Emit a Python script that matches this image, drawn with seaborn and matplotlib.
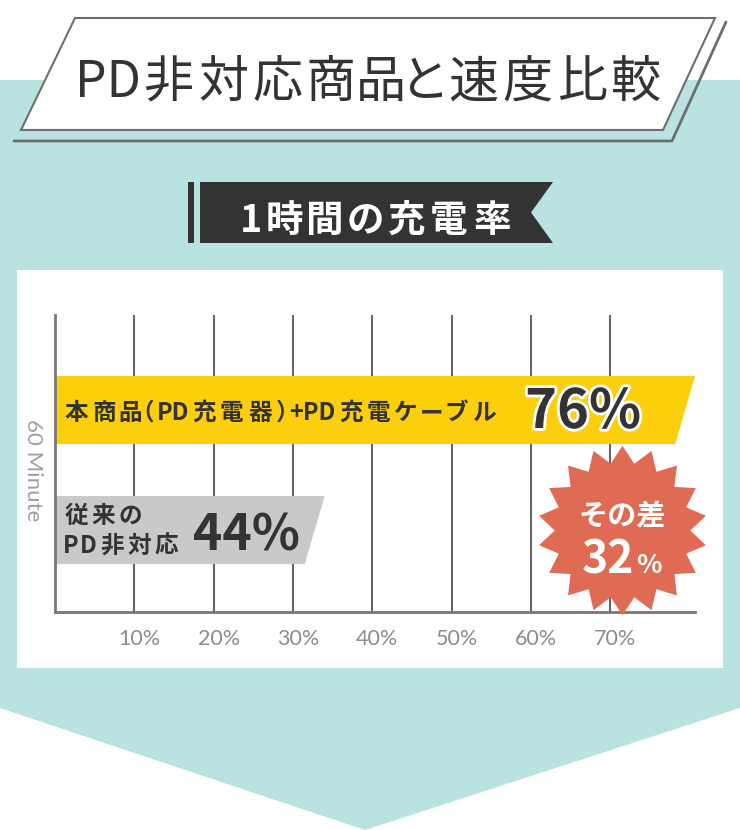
import re
import numpy as np
import pandas as pd
import matplotlib
matplotlib.use("Agg")
import matplotlib.pyplot as plt
import matplotlib.transforms as mtransforms
import matplotlib.patheffects as pe
from matplotlib.patches import Polygon, Rectangle
from matplotlib.path import Path
from matplotlib.textpath import TextPath
from matplotlib.font_manager import FontProperties
import seaborn as sns

products = ["本商品（PD充電器）+PD充電ケーブル", "従来のPD非対応"]
rates = [76, 44]                 # charge rate after 60 minutes (%)
bar_lengths = [80.7, 34.0]       # bar length as drawn in the graphic (%)
bar_colors = ["#fccf0c", "#c9c9c9"]
tick_values = [10, 20, 30, 40, 50, 60, 70]
tick_labels = ["10%", "20%", "30%", "40%", "50%", "60%", "70%"]
diff = rates[0] - rates[1]

df = pd.DataFrame({"product": products, "length": bar_lengths})

sns.set_theme(style="white")
plt.rcParams["font.family"] = ["Noto Sans CJK JP", "DejaVu Sans"]

DARK = "#333333"
TEAL = "#b9e3e1"


def spaced_text(ax, x, y, s, width, ha="left", dy=0, group=False, **kw):
    # draw text piece by piece with even gaps between the glyph inks,
    # so the whole string is `width` px wide
    fig = ax.figure
    parts = re.findall(r"[A-Za-z0-9+%]+|.", s) if group else list(s)
    fp = FontProperties(family=plt.rcParams["font.family"], size=kw["fontsize"],
                        weight=kw.get("fontweight", "normal"))
    px = fig.dpi / 72
    ink = []
    for p in parts:
        e = TextPath((0, 0), p, prop=fp).get_extents()
        ink.append((e.x0 * px, e.x1 * px))
    gap = (width - sum(b - a for a, b in ink)) / (len(parts) - 1)
    pos = {"left": 0, "center": -width / 2, "right": -width}[ha]
    for p, (a, b) in zip(parts, ink):
        tr = mtransforms.offset_copy(ax.transData, fig=fig, x=pos - a, y=dy, units="dots")
        ax.text(x, y, p, transform=tr, ha="left", va="baseline", **kw)
        pos += (b - a) + gap


fig = plt.figure(figsize=(7.4, 8.3), dpi=100)
fig.patch.set_facecolor("white")

# background / decoration layer in pixel coords
bg = fig.add_axes([0, 0, 1, 1])
bg.set_xlim(0, 740)
bg.set_ylim(830, 0)
bg.axis("off")
bg.add_patch(Polygon([(0, 80), (740, 80), (740, 708), (365, 830), (0, 708)],
                     closed=True, fc=TEAL, ec="none"))
bg.add_patch(Rectangle((17, 270), 706, 398, fc="white", ec="none"))
bg.plot([14, 672, 726], [141, 141, 22], color="#6e6e6e", lw=2)
bg.add_patch(Polygon([(75, 18), (715, 18), (663, 130), (21, 130)],
                     closed=True, fc="white", ec="#6e6e6e", lw=1.5))
spaced_text(bg, 370, 97, "PD非対応商品と速度比較", 580, ha="center", group=True,
            fontsize=36, color=DARK)
bg.add_patch(Rectangle((188, 182), 6, 61, fc=DARK, ec="none"))
bg.add_patch(Polygon([(200, 182), (553, 182), (531, 212.5), (553, 243), (200, 243)],
                     closed=True, fc=DARK, ec="none"))
spaced_text(bg, 376, 232, "1時間の充電率", 266, ha="center",
            fontsize=27, fontweight="bold", color="white")
bg.text(33, 470, "60 Minute", rotation=-90, ha="center", va="center",
        fontsize=16, color="#a0a0a0", family=["Lato", "DejaVu Sans"])

# chart
ax = fig.add_axes([55 / 740, 1 - 612 / 830, 640 / 740, 297 / 830])
ax.set_facecolor("none")
sns.barplot(data=df, x="length", y="product", hue="product", palette=bar_colors,
            width=0.567, saturation=1, legend=False, ax=ax, zorder=2)

# slanted right end on each bar
slant = 2.5
for patch in list(ax.patches):
    x0, y0 = patch.get_x(), patch.get_y()
    w, h = patch.get_width(), patch.get_height()
    fc = patch.get_facecolor()
    patch.remove()
    ax.add_patch(Polygon([(x0, y0), (x0 + w, y0), (x0 + w - slant, y0 + h), (x0, y0 + h)],
                         closed=True, fc=fc, ec="none", zorder=2))

ax.set_xlim(0, 80.7)
ax.set_ylim(1.683, -0.792)
ax.set_xticks(tick_values, tick_labels)
ax.set_yticks([])
ax.set_xlabel("")
ax.set_ylabel("")
ax.grid(axis="x", color="#666666", lw=1.5)
ax.set_axisbelow(True)
for s in ["top", "right"]:
    ax.spines[s].set_visible(False)
for s in ["left", "bottom"]:
    ax.spines[s].set_color("#777777")
    ax.spines[s].set_linewidth(2)
ax.tick_params(axis="x", length=0, pad=12, labelsize=15.5, labelcolor="#8c8c8c")
shift = mtransforms.ScaledTranslation(0.05, 0, fig.dpi_scale_trans)
for lab in ax.get_xticklabels():
    lab.set_fontfamily(["Lato", "DejaVu Sans"])
    lab.set_transform(lab.get_transform() + shift)

# bar texts
spaced_text(ax, 1.26, 0, products[0], 430, dy=-10, group=True, fontsize=17,
            fontweight="bold", color=DARK)
spaced_text(ax, 1.26, 1, "従来の", 75, dy=7, fontsize=17, fontweight="bold", color=DARK)
spaced_text(ax, 1.26, 1, "PD非対応", 113, dy=-23, fontsize=17, fontweight="bold", color=DARK)

tr = mtransforms.offset_copy(ax.transData, fig=fig, x=0, y=-18, units="dots")
ax.text(66.6, 0, f"{rates[0]}%", transform=tr, ha="center", va="baseline",
        fontsize=39, fontweight="bold", color=DARK, zorder=5,
        path_effects=[pe.withStroke(linewidth=4, foreground="white")])
tr = mtransforms.offset_copy(ax.transData, fig=fig, x=0, y=-20, units="dots")
ax.text(24.2, 1, f"{rates[1]}%", transform=tr, ha="center", va="baseline",
        fontsize=36, fontweight="bold", color=DARK, zorder=5)

# starburst badge with the difference
n = 18
ang = np.linspace(0, 2 * np.pi, 2 * n, endpoint=False) + np.pi / 2
rad = np.where(np.arange(2 * n) % 2 == 0, 1.0, 0.8)
verts = np.column_stack([rad * np.cos(ang), rad * np.sin(ang)])
verts = np.vstack([verts, verts[:1]])
star = Path(verts, closed=True)
ax.scatter([71.5], [1], marker=star, s=122 ** 2, color="#e06b55", lw=0, zorder=4,
           clip_on=False)
tr = mtransforms.offset_copy(ax.transData, fig=fig, x=0, y=5, units="dots")
ax.text(71.5, 1, "その差", transform=tr, ha="center", va="baseline",
        fontsize=21, fontweight="bold", color="white", zorder=6)
tr = mtransforms.offset_copy(ax.transData, fig=fig, x=12, y=-43, units="dots")
ax.text(71.5, 1, f"{diff}", transform=tr, ha="right", va="baseline",
        fontsize=32, fontweight="bold", color="white", zorder=6)
tr = mtransforms.offset_copy(ax.transData, fig=fig, x=14, y=-43, units="dots")
ax.text(71.5, 1, "%", transform=tr, ha="left", va="baseline",
        fontsize=19, fontweight="bold", color="white", zorder=6)

fig.savefig("out.png", dpi=100, facecolor="white")
